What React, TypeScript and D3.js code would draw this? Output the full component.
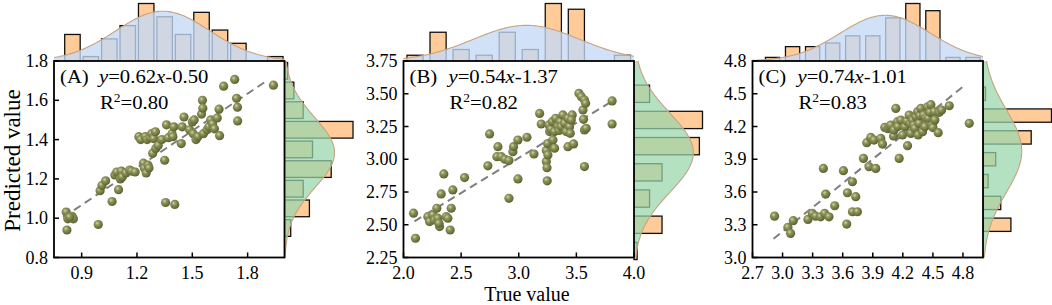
import React from 'react';
import * as d3 from 'd3';

// ---------- DATA ----------
const panelLabels = ['(A)', '(B)', '(C)'];
const eqSlopes = ['0.62', '0.54', '0.74'];
const eqIntercepts = ['-0.50', '-1.37', '-1.01'];
const r2Values = ['0.80', '0.82', '0.83'];

const xDomains: [number, number][] = [[0.75, 2.0], [2.0, 4.0], [2.7, 5.0]];
const yDomains: [number, number][] = [[0.8, 1.8], [2.25, 3.75], [3.0, 4.8]];
const xTicks = [[0.9, 1.2, 1.5, 1.8], [2.0, 2.5, 3.0, 3.5, 4.0], [2.7, 3.0, 3.3, 3.6, 3.9, 4.2, 4.5, 4.8]];
const yTicks = [[0.8, 1.0, 1.2, 1.4, 1.6, 1.8], [2.25, 2.5, 2.75, 3.0, 3.25, 3.5, 3.75], [3.0, 3.3, 3.6, 3.9, 4.2, 4.5, 4.8]];
const xTickFormats = ['.1f', '.1f', '.1f'];
const yTickFormats = ['.1f', '.2f', '.1f'];

// scatter: [true value, predicted value]
const pointsA: [number, number][] = [
  [0.816, 1.031], [0.825, 0.997], [0.848, 1.010], [0.855, 0.997], [0.820, 0.940], [0.835, 1.005],
  [0.990, 0.968],
  [1.000, 1.140], [1.010, 1.167], [1.030, 1.190], [1.065, 1.085], [1.080, 1.220], [1.090, 1.235],
  [1.100, 1.145], [1.110, 1.200], [1.115, 1.240], [1.120, 1.210], [1.140, 1.230], [1.160, 1.245], [1.170, 1.240], [1.190, 1.235],
  [1.210, 1.415], [1.220, 1.400], [1.235, 1.280], [1.240, 1.255], [1.245, 1.415], [1.250, 1.230], [1.255, 1.400], [1.260, 1.270],
  [1.265, 1.255], [1.270, 1.410], [1.280, 1.430], [1.285, 1.330], [1.290, 1.405],
  [1.300, 1.440], [1.302, 1.355], [1.315, 1.370], [1.335, 1.400], [1.350, 1.295], [1.355, 1.080], [1.360, 1.475], [1.370, 1.410],
  [1.390, 1.430], [1.395, 1.415],
  [1.400, 1.465], [1.405, 1.070], [1.440, 1.380], [1.445, 1.465], [1.455, 1.515], [1.485, 1.450],
  [1.500, 1.490], [1.505, 1.430], [1.510, 1.500], [1.520, 1.400], [1.530, 1.415], [1.550, 1.530], [1.555, 1.600], [1.557, 1.560],
  [1.560, 1.430], [1.580, 1.450], [1.590, 1.465],
  [1.600, 1.500], [1.610, 1.480], [1.620, 1.455], [1.635, 1.510], [1.645, 1.555], [1.648, 1.420], [1.670, 1.672],
  [1.730, 1.706], [1.740, 1.610], [1.745, 1.565], [1.746, 1.495],
  [1.940, 1.677],
];
const pointsB: [number, number][] = [
  [2.087, 2.588], [2.104, 2.397],
  [2.211, 2.562], [2.226, 2.524], [2.255, 2.575], [2.269, 2.537], [2.289, 2.626], [2.298, 2.550], [2.313, 2.486], [2.307, 2.511],
  [2.327, 2.735], [2.350, 2.888], [2.370, 2.562], [2.385, 2.550],
  [2.405, 2.460], [2.414, 2.626], [2.428, 2.766], [2.530, 2.860],
  [2.732, 2.950], [2.747, 3.193],
  [2.810, 3.020], [2.819, 3.096], [2.848, 3.020], [2.880, 3.000], [2.915, 2.990], [2.915, 2.702], [2.949, 3.058], [2.955, 3.096],
  [2.993, 3.147], [2.993, 2.850],
  [3.071, 3.168], [3.132, 3.040], [3.181, 3.350], [3.195, 3.269],
  [3.239, 3.066], [3.239, 2.982], [3.245, 2.936], [3.247, 2.835], [3.250, 3.120], [3.253, 3.033], [3.262, 3.262], [3.268, 3.211],
  [3.280, 3.230], [3.291, 3.287], [3.297, 3.147], [3.311, 3.211], [3.320, 3.313], [3.311, 3.084], [3.340, 3.254], [3.350, 3.220],
  [3.360, 3.287], [3.369, 3.249], [3.383, 3.338], [3.398, 3.275],
  [3.412, 3.211], [3.427, 3.313], [3.441, 3.249], [3.447, 3.198], [3.427, 3.096], [3.464, 3.338], [3.456, 3.300], [3.476, 3.117],
  [3.522, 3.503], [3.543, 3.478], [3.557, 3.376], [3.562, 3.305], [3.570, 3.452], [3.580, 3.427], [3.570, 3.224], [3.570, 2.944],
  [3.585, 3.236],
  [3.810, 3.445], [3.810, 3.269],
];
const pointsC: [number, number][] = [
  [2.920, 3.379],
  [3.053, 3.276], [3.080, 3.221], [3.107, 3.337],
  [3.253, 3.349], [3.297, 3.404], [3.330, 3.379], [3.380, 3.373],
  [3.420, 3.404], [3.407, 3.816], [3.430, 3.581], [3.463, 3.373], [3.520, 3.474],
  [3.607, 3.795], [3.640, 3.306], [3.647, 3.593], [3.697, 3.694], [3.697, 3.419], [3.730, 3.557], [3.747, 3.419],
  [3.807, 3.908], [3.840, 4.052], [3.863, 3.832], [3.880, 4.100], [3.913, 4.076], [3.930, 3.816], [3.980, 4.091], [3.997, 4.039],
  [4.020, 4.192], [4.050, 4.180], [4.063, 4.198], [4.080, 4.213], [4.107, 4.113], [4.113, 4.168], [4.130, 4.366], [4.147, 4.244],
  [4.150, 4.200], [4.163, 3.908], [4.180, 4.259], [4.197, 4.122],
  [4.220, 4.198], [4.240, 4.250], [4.247, 4.024], [4.263, 4.305], [4.273, 4.229], [4.280, 4.137], [4.297, 4.259], [4.310, 4.210],
  [4.320, 4.183], [4.330, 4.290], [4.347, 4.336], [4.353, 4.122], [4.363, 4.229], [4.370, 4.300], [4.380, 4.366], [4.397, 4.152],
  [4.407, 4.305], [4.420, 4.198], [4.430, 4.280], [4.447, 4.381], [4.453, 4.275], [4.470, 4.330], [4.480, 4.400], [4.497, 4.213],
  [4.500, 4.190], [4.513, 4.336], [4.520, 4.260], [4.553, 4.143], [4.563, 4.330], [4.587, 4.351],
  [4.663, 4.390],
  [4.863, 4.229],
];

// fitted dashed lines
const fitSlopes = [0.63, 0.535, 0.737];
const fitIntercepts = [0.50, 1.405, 1.027];
const fitRanges: [number, number][] = [[0.80, 1.91], [2.095, 3.84], [2.91, 4.81]];

// marginal histograms (counts), bins start / width
const topHistStart = [0.8, 2.0, 2.8];
const topHistWidth = [0.1, 0.2, 0.2];
const topHistA = [6, 1, 5, 8, 13, 10, 6, 11, 7, 4, 0, 1];
const topHistB = [2, 10, 4, 2, 10, 4, 20, 18, 0, 2];
const topHistC = [1, 4, 4, 5, 7, 7, 12, 16, 14, 1, 1];
const rightHistStart = [0.9, 2.2, 3.2];
const rightHistWidth = [0.1, 0.2, 0.2];
const rightHistA = [2, 8, 6, 15, 9, 22, 6, 3, 1];
const rightHistB = [1, 9, 5, 9, 21, 22, 5];
const rightHistC = [11, 7, 2, 5, 19, 27, 1];

// ---------- LAYOUT / STYLE ----------
const W = 1052, H = 305;
const panelLefts = [54, 403.5, 752.5];
const PW = 230.5;
const TOP = 61, BOTTOM = 257.5;
const TOP_HIST_H = 57.5, RIGHT_HIST_W = 68.5;
const topBarFrac = [0.84, 0.7, 0.71];
const rightBarFrac = [0.85, 0.66, 0.61];
const FONT = '"Liberation Serif", "Times New Roman", serif';
const ANN_STRETCH = 1.12;

const pointSets = [pointsA, pointsB, pointsC];
const topHists = [topHistA, topHistB, topHistC];
const rightHists = [rightHistA, rightHistB, rightHistC];

function fitNormal(start: number, width: number, counts: number[]) {
  const centers = counts.map((_, i) => start + width * (i + 0.5));
  const n = d3.sum(counts);
  const mean = d3.sum(centers, (c, i) => c * counts[i]) / n;
  const variance = d3.sum(centers, (c, i) => (c - mean) * (c - mean) * counts[i]) / n;
  const sd = Math.sqrt(variance);
  const area = n * width;
  return (v: number) => (area / (sd * Math.sqrt(2 * Math.PI))) * Math.exp(-0.5 * ((v - mean) / sd) ** 2);
}

function Panel({ i }: { i: number }) {
  const L = panelLefts[i];
  const R = L + PW;
  const x = d3.scaleLinear().domain(xDomains[i]).range([L, R]);
  const y = d3.scaleLinear().domain(yDomains[i]).range([BOTTOM, TOP]);
  const tCounts = topHists[i];
  const rCounts = rightHists[i];
  const hTop = d3.scaleLinear().domain([0, d3.max(tCounts) as number]).range([0, TOP_HIST_H]);
  const hRight = d3.scaleLinear().domain([0, d3.max(rCounts) as number]).range([0, RIGHT_HIST_W]);
  const topPdf = fitNormal(topHistStart[i], topHistWidth[i], tCounts);
  const rightPdf = fitNormal(rightHistStart[i], rightHistWidth[i], rCounts);

  const xs = d3.range(0, 151).map(k => xDomains[i][0] + (k / 150) * (xDomains[i][1] - xDomains[i][0]));
  const ysamp = d3.range(0, 151).map(k => yDomains[i][0] + (k / 150) * (yDomains[i][1] - yDomains[i][0]));
  const topArea = d3.area<number>().x(v => x(v)).y0(TOP).y1(v => TOP - hTop(topPdf(v))).curve(d3.curveBasis)(xs) as string;
  const topLine = d3.line<number>().x(v => x(v)).y(v => TOP - hTop(topPdf(v))).curve(d3.curveBasis)(xs) as string;
  const rightArea = d3.area<number>().y(v => y(v)).x0(R).x1(v => R + hRight(rightPdf(v))).curve(d3.curveBasis)(ysamp) as string;
  const rightLine = d3.line<number>().y(v => y(v)).x(v => R + hRight(rightPdf(v))).curve(d3.curveBasis)(ysamp) as string;

  const tw = topHistWidth[i], rw = rightHistWidth[i];
  const xf = d3.format(xTickFormats[i]);
  const yf = d3.format(yTickFormats[i]);
  const fr = fitRanges[i];
  const fy = (v: number) => fitSlopes[i] * v + fitIntercepts[i];

  return (
    <g>
      {/* top histogram */}
      {tCounts.map((c, k) => {
        if (c <= 0) return null;
        const x0 = topHistStart[i] + k * tw;
        const bw = (x(x0 + tw) - x(x0)) * topBarFrac[i];
        const cx = x(x0 + tw / 2);
        return <rect key={'t' + k} x={cx - bw / 2} y={TOP - hTop(c)} width={bw} height={hTop(c)}
          fill="#FFCC99" stroke="#111" strokeWidth={1.3} />;
      })}
      <path d={topArea} fill="#C4DAF6" fillOpacity={0.78} stroke="none" />
      <path d={topLine} fill="none" stroke="#C9A27E" strokeWidth={1.1} />
      {/* right histogram */}
      {rCounts.map((c, k) => {
        if (c <= 0) return null;
        const y0 = rightHistStart[i] + k * rw;
        const bh = (y(y0) - y(y0 + rw)) * rightBarFrac[i];
        const cy = y(y0 + rw / 2);
        return <rect key={'r' + k} x={R} y={cy - bh / 2} width={hRight(c)} height={bh}
          fill="#FFCC99" stroke="#111" strokeWidth={1.3} />;
      })}
      <path d={rightArea} fill="#97D6AA" fillOpacity={0.72} stroke="none" />
      <path d={rightLine} fill="none" stroke="#C9A27E" strokeWidth={1.1} />

      {/* plot box */}
      <rect x={L} y={TOP} width={PW} height={BOTTOM - TOP} fill="#fff" stroke="none" />
      {/* fit line */}
      <line x1={x(fr[0])} y1={y(fy(fr[0]))} x2={x(fr[1])} y2={y(fy(fr[1]))}
        stroke="#7F7F7F" strokeWidth={2} strokeDasharray="8,5" />
      {/* points */}
      {pointSets[i].map((p, k) => (
        <circle key={'p' + k} cx={x(p[0])} cy={y(p[1])} r={4.6} fill="url(#ball)" />
      ))}
      <rect x={L} y={TOP} width={PW} height={BOTTOM - TOP} fill="none" stroke="#000" strokeWidth={1.8} />

      {/* ticks */}
      {xTicks[i].map(t => (
        <g key={'xt' + t}>
          <line x1={x(t)} x2={x(t)} y1={BOTTOM} y2={BOTTOM - 5} stroke="#000" strokeWidth={1.5} />
          <text x={x(t)} y={278.5} textAnchor="middle" fontSize={18} fontFamily={FONT}>{xf(t)}</text>
        </g>
      ))}
      {yTicks[i].map(t => (
        <g key={'yt' + t}>
          <line x1={L} x2={L + 5} y1={y(t)} y2={y(t)} stroke="#000" strokeWidth={1.5} />
          <text x={L - 6} y={y(t) + 6} textAnchor="end" fontSize={18} fontFamily={FONT}>{yf(t)}</text>
        </g>
      ))}

      {/* annotation */}
      <g transform={`translate(${L + 6},83) scale(${ANN_STRETCH},1)`}>
        <text x={0} y={0} fontSize={18.5} fontFamily={FONT}>{panelLabels[i]}</text>
      </g>
      <g transform={`translate(${L + 45},83) scale(${ANN_STRETCH},1)`}>
        <text x={0} y={0} fontSize={18.5} fontFamily={FONT}>
          <tspan fontStyle="italic">y</tspan>
          <tspan>{'=' + eqSlopes[i]}</tspan>
          <tspan fontStyle="italic">x</tspan>
          <tspan>{eqIntercepts[i]}</tspan>
        </text>
      </g>
      <g transform={`translate(${L + 46},109) scale(${ANN_STRETCH},1)`}>
        <text x={0} y={0} fontSize={18.5} fontFamily={FONT}>
          <tspan>R</tspan>
          <tspan dy={-7} fontSize={12}>2</tspan>
          <tspan dy={7}>{'=' + r2Values[i]}</tspan>
        </text>
      </g>
    </g>
  );
}

export default function App() {
  return (
    <svg width={W} height={H} style={{ position: 'absolute', left: 0, top: 0, background: '#fff' }}>
      <defs>
        <radialGradient id="ball" cx="38%" cy="35%" r="65%">
          <stop offset="0%" stopColor="#D2D4AE" />
          <stop offset="35%" stopColor="#8E9459" />
          <stop offset="100%" stopColor="#5B6131" />
        </radialGradient>
      </defs>
      <rect x={0} y={0} width={W} height={H} fill="#fff" />
      {[0, 1, 2].map(i => <Panel key={i} i={i} />)}
      <text transform="translate(19.5,160.5) rotate(-90)" textAnchor="middle" fontSize={23} fontFamily={FONT}>Predicted value</text>
      <text x={527} y={300.5} textAnchor="middle" fontSize={20} fontFamily={FONT}>True value</text>
    </svg>
  );
}
